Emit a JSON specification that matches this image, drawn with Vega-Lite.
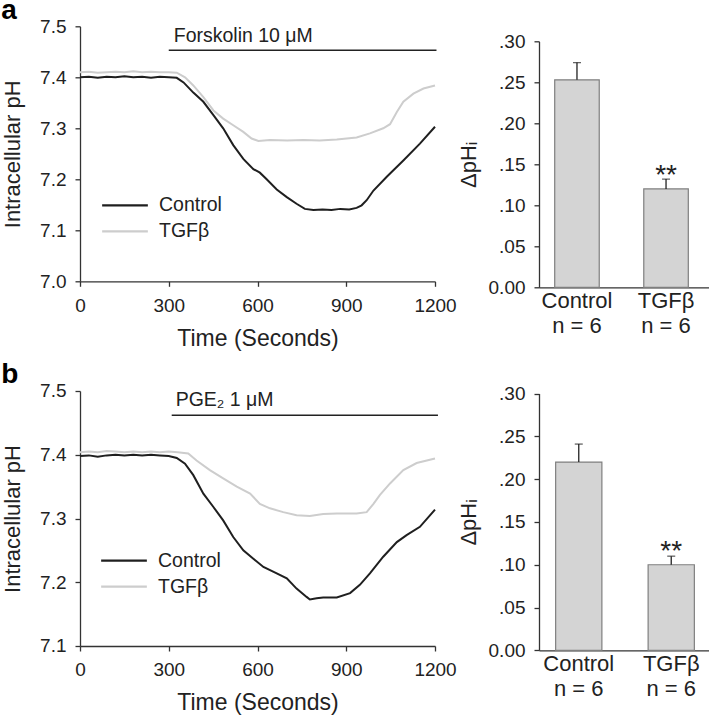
{
  "$schema": "https://vega.github.io/schema/vega-lite/v6.json",
  "background": "white",
  "padding": {"top": -3.7, "left": 1, "right": 5, "bottom": 5},
  "config": {
    "view": {"stroke": null},
    "font": "Liberation Sans",
    "axis": {
      "grid": false,
      "labelFlush": false,
      "domainColor": "#333333",
      "tickColor": "#333333",
      "domainWidth": 1.3,
      "tickWidth": 1.3,
      "tickSize": 5,
      "labelColor": "#222222",
      "titleColor": "#222222",
      "labelFont": "Liberation Sans",
      "titleFont": "Liberation Sans",
      "titleFontWeight": "normal",
      "labelFontSize": 19,
      "titleFontSize": 23
    },
    "legend": {"labelFont": "Liberation Sans", "labelColor": "#222222"},
    "title": {"font": "Liberation Sans", "fontWeight": "bold", "fontSize": 28, "color": "#000000"}
  },
  "datasets": {
    "traces": [
      {"panel": "a", "series": "Control", "time": 0, "ph": 7.400},
      {"panel": "a", "series": "Control", "time": 30, "ph": 7.401},
      {"panel": "a", "series": "Control", "time": 60, "ph": 7.399},
      {"panel": "a", "series": "Control", "time": 90, "ph": 7.401},
      {"panel": "a", "series": "Control", "time": 120, "ph": 7.400},
      {"panel": "a", "series": "Control", "time": 150, "ph": 7.402},
      {"panel": "a", "series": "Control", "time": 180, "ph": 7.400},
      {"panel": "a", "series": "Control", "time": 210, "ph": 7.401},
      {"panel": "a", "series": "Control", "time": 240, "ph": 7.399},
      {"panel": "a", "series": "Control", "time": 270, "ph": 7.401},
      {"panel": "a", "series": "Control", "time": 300, "ph": 7.400},
      {"panel": "a", "series": "Control", "time": 327, "ph": 7.399},
      {"panel": "a", "series": "Control", "time": 350, "ph": 7.390},
      {"panel": "a", "series": "Control", "time": 383, "ph": 7.370},
      {"panel": "a", "series": "Control", "time": 417, "ph": 7.352},
      {"panel": "a", "series": "Control", "time": 451, "ph": 7.326},
      {"panel": "a", "series": "Control", "time": 484, "ph": 7.300},
      {"panel": "a", "series": "Control", "time": 518, "ph": 7.267},
      {"panel": "a", "series": "Control", "time": 552, "ph": 7.240},
      {"panel": "a", "series": "Control", "time": 586, "ph": 7.220},
      {"panel": "a", "series": "Control", "time": 608, "ph": 7.213},
      {"panel": "a", "series": "Control", "time": 631, "ph": 7.200},
      {"panel": "a", "series": "Control", "time": 665, "ph": 7.180},
      {"panel": "a", "series": "Control", "time": 699, "ph": 7.165},
      {"panel": "a", "series": "Control", "time": 732, "ph": 7.152},
      {"panel": "a", "series": "Control", "time": 760, "ph": 7.142},
      {"panel": "a", "series": "Control", "time": 789, "ph": 7.140},
      {"panel": "a", "series": "Control", "time": 820, "ph": 7.141},
      {"panel": "a", "series": "Control", "time": 850, "ph": 7.140},
      {"panel": "a", "series": "Control", "time": 880, "ph": 7.142},
      {"panel": "a", "series": "Control", "time": 910, "ph": 7.141},
      {"panel": "a", "series": "Control", "time": 935, "ph": 7.144},
      {"panel": "a", "series": "Control", "time": 952, "ph": 7.149},
      {"panel": "a", "series": "Control", "time": 969, "ph": 7.159},
      {"panel": "a", "series": "Control", "time": 992, "ph": 7.178},
      {"panel": "a", "series": "Control", "time": 1037, "ph": 7.205},
      {"panel": "a", "series": "Control", "time": 1093, "ph": 7.237},
      {"panel": "a", "series": "Control", "time": 1149, "ph": 7.270},
      {"panel": "a", "series": "Control", "time": 1200, "ph": 7.303},
      {"panel": "a", "series": "TGFβ", "time": 0, "ph": 7.410},
      {"panel": "a", "series": "TGFβ", "time": 30, "ph": 7.411},
      {"panel": "a", "series": "TGFβ", "time": 60, "ph": 7.409},
      {"panel": "a", "series": "TGFβ", "time": 90, "ph": 7.410},
      {"panel": "a", "series": "TGFβ", "time": 120, "ph": 7.411},
      {"panel": "a", "series": "TGFβ", "time": 150, "ph": 7.410},
      {"panel": "a", "series": "TGFβ", "time": 180, "ph": 7.412},
      {"panel": "a", "series": "TGFβ", "time": 210, "ph": 7.410},
      {"panel": "a", "series": "TGFβ", "time": 240, "ph": 7.411},
      {"panel": "a", "series": "TGFβ", "time": 270, "ph": 7.410},
      {"panel": "a", "series": "TGFβ", "time": 300, "ph": 7.410},
      {"panel": "a", "series": "TGFβ", "time": 327, "ph": 7.409},
      {"panel": "a", "series": "TGFβ", "time": 355, "ph": 7.400},
      {"panel": "a", "series": "TGFβ", "time": 383, "ph": 7.384},
      {"panel": "a", "series": "TGFβ", "time": 417, "ph": 7.361},
      {"panel": "a", "series": "TGFβ", "time": 451, "ph": 7.335},
      {"panel": "a", "series": "TGFβ", "time": 484, "ph": 7.319},
      {"panel": "a", "series": "TGFβ", "time": 518, "ph": 7.306},
      {"panel": "a", "series": "TGFβ", "time": 552, "ph": 7.293},
      {"panel": "a", "series": "TGFβ", "time": 580, "ph": 7.280},
      {"panel": "a", "series": "TGFβ", "time": 603, "ph": 7.275},
      {"panel": "a", "series": "TGFβ", "time": 642, "ph": 7.277},
      {"panel": "a", "series": "TGFβ", "time": 700, "ph": 7.276},
      {"panel": "a", "series": "TGFβ", "time": 755, "ph": 7.277},
      {"panel": "a", "series": "TGFβ", "time": 810, "ph": 7.276},
      {"panel": "a", "series": "TGFβ", "time": 868, "ph": 7.278},
      {"panel": "a", "series": "TGFβ", "time": 935, "ph": 7.282},
      {"panel": "a", "series": "TGFβ", "time": 980, "ph": 7.290},
      {"panel": "a", "series": "TGFβ", "time": 1025, "ph": 7.300},
      {"panel": "a", "series": "TGFβ", "time": 1048, "ph": 7.308},
      {"panel": "a", "series": "TGFβ", "time": 1071, "ph": 7.332},
      {"panel": "a", "series": "TGFβ", "time": 1093, "ph": 7.352},
      {"panel": "a", "series": "TGFβ", "time": 1127, "ph": 7.368},
      {"panel": "a", "series": "TGFβ", "time": 1161, "ph": 7.378},
      {"panel": "a", "series": "TGFβ", "time": 1200, "ph": 7.384},
      {"panel": "b", "series": "Control", "time": 0, "ph": 7.398},
      {"panel": "b", "series": "Control", "time": 30, "ph": 7.399},
      {"panel": "b", "series": "Control", "time": 60, "ph": 7.397},
      {"panel": "b", "series": "Control", "time": 90, "ph": 7.399},
      {"panel": "b", "series": "Control", "time": 120, "ph": 7.400},
      {"panel": "b", "series": "Control", "time": 150, "ph": 7.399},
      {"panel": "b", "series": "Control", "time": 180, "ph": 7.400},
      {"panel": "b", "series": "Control", "time": 210, "ph": 7.399},
      {"panel": "b", "series": "Control", "time": 240, "ph": 7.400},
      {"panel": "b", "series": "Control", "time": 270, "ph": 7.399},
      {"panel": "b", "series": "Control", "time": 300, "ph": 7.398},
      {"panel": "b", "series": "Control", "time": 327, "ph": 7.395},
      {"panel": "b", "series": "Control", "time": 355, "ph": 7.386},
      {"panel": "b", "series": "Control", "time": 383, "ph": 7.368},
      {"panel": "b", "series": "Control", "time": 417, "ph": 7.339},
      {"panel": "b", "series": "Control", "time": 451, "ph": 7.318},
      {"panel": "b", "series": "Control", "time": 484, "ph": 7.297},
      {"panel": "b", "series": "Control", "time": 518, "ph": 7.271},
      {"panel": "b", "series": "Control", "time": 552, "ph": 7.250},
      {"panel": "b", "series": "Control", "time": 586, "ph": 7.237},
      {"panel": "b", "series": "Control", "time": 620, "ph": 7.224},
      {"panel": "b", "series": "Control", "time": 665, "ph": 7.214},
      {"panel": "b", "series": "Control", "time": 699, "ph": 7.206},
      {"panel": "b", "series": "Control", "time": 732, "ph": 7.190},
      {"panel": "b", "series": "Control", "time": 766, "ph": 7.177},
      {"panel": "b", "series": "Control", "time": 777, "ph": 7.173},
      {"panel": "b", "series": "Control", "time": 800, "ph": 7.175},
      {"panel": "b", "series": "Control", "time": 822, "ph": 7.176},
      {"panel": "b", "series": "Control", "time": 868, "ph": 7.176},
      {"panel": "b", "series": "Control", "time": 913, "ph": 7.183},
      {"panel": "b", "series": "Control", "time": 946, "ph": 7.196},
      {"panel": "b", "series": "Control", "time": 980, "ph": 7.214},
      {"panel": "b", "series": "Control", "time": 1025, "ph": 7.240},
      {"panel": "b", "series": "Control", "time": 1071, "ph": 7.263},
      {"panel": "b", "series": "Control", "time": 1104, "ph": 7.274},
      {"panel": "b", "series": "Control", "time": 1149, "ph": 7.287},
      {"panel": "b", "series": "Control", "time": 1200, "ph": 7.314},
      {"panel": "b", "series": "TGFβ", "time": 0, "ph": 7.404},
      {"panel": "b", "series": "TGFβ", "time": 30, "ph": 7.405},
      {"panel": "b", "series": "TGFβ", "time": 60, "ph": 7.404},
      {"panel": "b", "series": "TGFβ", "time": 90, "ph": 7.406},
      {"panel": "b", "series": "TGFβ", "time": 120, "ph": 7.405},
      {"panel": "b", "series": "TGFβ", "time": 150, "ph": 7.404},
      {"panel": "b", "series": "TGFβ", "time": 180, "ph": 7.405},
      {"panel": "b", "series": "TGFβ", "time": 210, "ph": 7.404},
      {"panel": "b", "series": "TGFβ", "time": 240, "ph": 7.405},
      {"panel": "b", "series": "TGFβ", "time": 270, "ph": 7.404},
      {"panel": "b", "series": "TGFβ", "time": 300, "ph": 7.405},
      {"panel": "b", "series": "TGFβ", "time": 330, "ph": 7.404},
      {"panel": "b", "series": "TGFβ", "time": 366, "ph": 7.402},
      {"panel": "b", "series": "TGFβ", "time": 394, "ph": 7.391},
      {"panel": "b", "series": "TGFβ", "time": 439, "ph": 7.376},
      {"panel": "b", "series": "TGFβ", "time": 484, "ph": 7.363},
      {"panel": "b", "series": "TGFβ", "time": 530, "ph": 7.350},
      {"panel": "b", "series": "TGFβ", "time": 575, "ph": 7.339},
      {"panel": "b", "series": "TGFβ", "time": 608, "ph": 7.323},
      {"panel": "b", "series": "TGFβ", "time": 642, "ph": 7.316},
      {"panel": "b", "series": "TGFβ", "time": 687, "ph": 7.310},
      {"panel": "b", "series": "TGFβ", "time": 732, "ph": 7.305},
      {"panel": "b", "series": "TGFβ", "time": 777, "ph": 7.304},
      {"panel": "b", "series": "TGFβ", "time": 822, "ph": 7.307},
      {"panel": "b", "series": "TGFβ", "time": 868, "ph": 7.308},
      {"panel": "b", "series": "TGFβ", "time": 935, "ph": 7.308},
      {"panel": "b", "series": "TGFβ", "time": 969, "ph": 7.310},
      {"panel": "b", "series": "TGFβ", "time": 992, "ph": 7.323},
      {"panel": "b", "series": "TGFβ", "time": 1014, "ph": 7.337},
      {"panel": "b", "series": "TGFβ", "time": 1048, "ph": 7.355},
      {"panel": "b", "series": "TGFβ", "time": 1093, "ph": 7.376},
      {"panel": "b", "series": "TGFβ", "time": 1138, "ph": 7.387},
      {"panel": "b", "series": "TGFβ", "time": 1200, "ph": 7.394}
    ],
    "drugs": [
      {"panel": "a", "label": "Forskolin 10 μM", "start": 300, "end": 1205, "level": 7.453},
      {"panel": "b", "label": "PGE₂ 1 μM", "start": 310, "end": 1210, "level": 7.462}
    ],
    "bars": [
      {"panel": "a", "group": "Control", "mean": 0.253, "upper": 0.274, "sig": ""},
      {"panel": "a", "group": "TGFβ", "mean": 0.120, "upper": 0.132, "sig": "**"},
      {"panel": "b", "group": "Control", "mean": 0.220, "upper": 0.241, "sig": ""},
      {"panel": "b", "group": "TGFβ", "mean": 0.100, "upper": 0.110, "sig": "**"}
    ]
  },
  "bounds": "flush",
  "columns": 2,
  "spacing": {"row": 103.7, "column": 104},
  "resolve": {"scale": {"color": "independent", "x": "independent", "y": "independent"}, "legend": {"color": "independent"}},
  "concat": [
    {
      "width": 355,
      "height": 255,
      "title": {"text": "a", "anchor": "start", "frame": "bounds", "offset": -7.3},
      "layer": [
        {
          "data": {"name": "traces"},
          "transform": [{"filter": "datum.panel == 'a'"}],
          "mark": {"type": "line", "strokeWidth": 2},
          "encoding": {
            "x": {"field": "time", "type": "quantitative", "scale": {"domain": [0, 1200], "nice": false, "zero": false},
                  "axis": {"values": [0, 300, 600, 900, 1200], "format": "d", "title": "Time (Seconds)", "labelPadding": 10, "titlePadding": 12}},
            "y": {"field": "ph", "type": "quantitative", "scale": {"domain": [7.0, 7.5], "nice": false, "zero": false},
                  "axis": {"values": [7.0, 7.1, 7.2, 7.3, 7.4, 7.5], "format": ".1f", "title": "Intracellular pH", "titleFontSize": 22, "labelPadding": 9, "titlePadding": 15.4}},
            "color": {"field": "series", "type": "nominal", "scale": {"domain": ["Control", "TGFβ"], "range": ["#1f1f1f", "#cdcdcd"]},
                      "legend": {"orient": "none", "legendX": 21, "legendY": 166, "title": null, "padding": 0, "symbolType": "stroke", "symbolSize": 2090, "symbolStrokeWidth": 2.2, "labelFontSize": 19.5, "labelOffset": 10, "rowPadding": 0, "clipHeight": 26}}
          }
        },
        {
          "data": {"name": "drugs"},
          "transform": [{"filter": "datum.panel == 'a'"}],
          "mark": {"type": "rule", "color": "#222222", "strokeWidth": 1.5},
          "encoding": {
            "x": {"field": "start", "type": "quantitative"},
            "x2": {"field": "end"},
            "y": {"field": "level", "type": "quantitative"}
          }
        },
        {
          "data": {"name": "drugs"},
          "transform": [{"filter": "datum.panel == 'a'"}],
          "mark": {"type": "text", "align": "left", "baseline": "alphabetic", "dx": 5, "dy": -8, "fontSize": 19.5, "color": "#222222"},
          "encoding": {
            "x": {"field": "start", "type": "quantitative"},
            "y": {"field": "level", "type": "quantitative"},
            "text": {"field": "label"}
          }
        }
      ]
    },
    {
      "width": 171,
      "height": 261,
      "data": {"name": "bars"},
      "transform": [{"filter": "datum.panel == 'a'"}],
      "encoding": {
        "x": {"field": "group", "type": "nominal", "sort": ["Control", "TGFβ"],
              "scale": {"paddingInner": 0.5, "paddingOuter": 0.21, "align": 0.42},
              "axis": {"title": null, "ticks": false, "labelAngle": 0, "labelExpr": "[datum.label, 'n = 6']", "labelFontSize": 22, "labelLineHeight": 25, "labelPadding": 3}}
      },
      "layer": [
        {
          "mark": {"type": "bar", "fill": "#d4d4d4", "stroke": "#7f7f7f", "strokeWidth": 1.2},
          "encoding": {
            "y": {"field": "mean", "type": "quantitative", "scale": {"domain": [0, 0.3], "range": [261, 15], "nice": false},
                  "axis": {"values": [0, 0.05, 0.1, 0.15, 0.2, 0.25, 0.3], "labelExpr": "datum.value == 0 ? '0.00' : replace(format(datum.value, '.2f'), '0.', '.')", "title": "ΔpHᵢ", "titleFontSize": 22, "labelPadding": 9, "titlePadding": 8}}
          }
        },
        {
          "mark": {"type": "rule", "color": "#222222", "strokeWidth": 1.3},
          "encoding": {"y": {"field": "mean", "type": "quantitative"}, "y2": {"field": "upper"}}
        },
        {
          "mark": {"type": "tick", "color": "#222222", "thickness": 1.3, "size": 8, "orient": "horizontal"},
          "encoding": {"y": {"field": "upper", "type": "quantitative"}}
        },
        {
          "mark": {"type": "text", "baseline": "alphabetic", "fontSize": 28, "dy": -5, "color": "#222222"},
          "encoding": {"y": {"field": "mean", "type": "quantitative"}, "text": {"field": "sig"}}
        }
      ]
    },
    {
      "width": 355,
      "height": 255,
      "title": {"text": "b", "anchor": "start", "frame": "bounds", "offset": -7.3},
      "layer": [
        {
          "data": {"name": "traces"},
          "transform": [{"filter": "datum.panel == 'b'"}],
          "mark": {"type": "line", "strokeWidth": 2},
          "encoding": {
            "x": {"field": "time", "type": "quantitative", "scale": {"domain": [0, 1200], "nice": false, "zero": false},
                  "axis": {"values": [0, 300, 600, 900, 1200], "format": "d", "title": "Time (Seconds)", "labelPadding": 10, "titlePadding": 12}},
            "y": {"field": "ph", "type": "quantitative", "scale": {"domain": [7.1, 7.5], "nice": false, "zero": false},
                  "axis": {"values": [7.1, 7.2, 7.3, 7.4, 7.5], "format": ".1f", "title": "Intracellular pH", "titleFontSize": 22, "labelPadding": 9, "titlePadding": 15.4}},
            "color": {"field": "series", "type": "nominal", "scale": {"domain": ["Control", "TGFβ"], "range": ["#1f1f1f", "#cdcdcd"]},
                      "legend": {"orient": "none", "legendX": 20, "legendY": 156.6, "title": null, "padding": 0, "symbolType": "stroke", "symbolSize": 2090, "symbolStrokeWidth": 2.2, "labelFontSize": 19.5, "labelOffset": 10, "rowPadding": 0, "clipHeight": 26}}
          }
        },
        {
          "data": {"name": "drugs"},
          "transform": [{"filter": "datum.panel == 'b'"}],
          "mark": {"type": "rule", "color": "#222222", "strokeWidth": 1.5},
          "encoding": {
            "x": {"field": "start", "type": "quantitative"},
            "x2": {"field": "end"},
            "y": {"field": "level", "type": "quantitative"}
          }
        },
        {
          "data": {"name": "drugs"},
          "transform": [{"filter": "datum.panel == 'b'"}],
          "mark": {"type": "text", "align": "left", "baseline": "alphabetic", "dx": 4, "dy": -9, "fontSize": 19.5, "color": "#222222"},
          "encoding": {
            "x": {"field": "start", "type": "quantitative"},
            "y": {"field": "level", "type": "quantitative"},
            "text": {"field": "label"}
          }
        }
      ]
    },
    {
      "width": 172,
      "height": 259.3,
      "data": {"name": "bars"},
      "transform": [{"filter": "datum.panel == 'b'"}],
      "encoding": {
        "x": {"field": "group", "type": "nominal", "sort": ["Control", "TGFβ"],
              "scale": {"paddingInner": 0.5, "paddingOuter": 0.18, "align": 0.5},
              "axis": {"title": null, "ticks": false, "labelAngle": 0, "labelExpr": "[datum.label, 'n = 6']", "labelFontSize": 22, "labelLineHeight": 25, "labelPadding": 3}}
      },
      "layer": [
        {
          "mark": {"type": "bar", "fill": "#d4d4d4", "stroke": "#7f7f7f", "strokeWidth": 1.2},
          "encoding": {
            "y": {"field": "mean", "type": "quantitative", "scale": {"domain": [0, 0.3], "range": [259.3, 2.6], "nice": false},
                  "axis": {"values": [0, 0.05, 0.1, 0.15, 0.2, 0.25, 0.3], "labelExpr": "datum.value == 0 ? '0.00' : replace(format(datum.value, '.2f'), '0.', '.')", "title": "ΔpHᵢ", "titleFontSize": 22, "labelPadding": 9, "titlePadding": 8}}
          }
        },
        {
          "mark": {"type": "rule", "color": "#222222", "strokeWidth": 1.3},
          "encoding": {"y": {"field": "mean", "type": "quantitative"}, "y2": {"field": "upper"}}
        },
        {
          "mark": {"type": "tick", "color": "#222222", "thickness": 1.3, "size": 8, "orient": "horizontal"},
          "encoding": {"y": {"field": "upper", "type": "quantitative"}}
        },
        {
          "mark": {"type": "text", "baseline": "alphabetic", "fontSize": 28, "dy": -5, "color": "#222222"},
          "encoding": {"y": {"field": "mean", "type": "quantitative"}, "text": {"field": "sig"}}
        }
      ]
    }
  ]
}
